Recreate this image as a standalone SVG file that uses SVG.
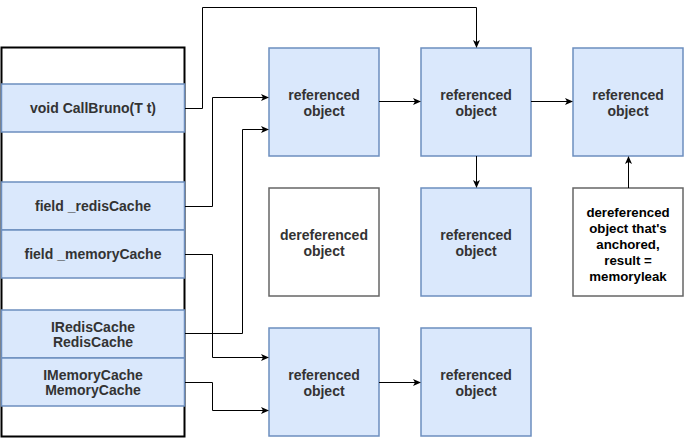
<svg xmlns="http://www.w3.org/2000/svg" width="684" height="439" viewBox="0 0 684 439">
<defs>
<marker id="arr" markerWidth="10" markerHeight="10" refX="8" refY="5" orient="auto" markerUnits="userSpaceOnUse">
<path d="M1,1.5 L9,5 L1,8.5 L3,5 Z" fill="#000"/>
</marker>
<style>
.blue{fill:#dae8fc;stroke:#6c8ebf;stroke-width:1.5}
.white{fill:#fff;stroke:#666;stroke-width:1.5}
.lbl{font-family:"Liberation Sans",Arial,sans-serif;font-size:14px;font-weight:bold;fill:#333;text-anchor:middle;dominant-baseline:central}
.dark{fill:#000;font-size:13.25px}
.edge{fill:none;stroke:#000;stroke-width:1;marker-end:url(#arr)}
</style>
</defs>
<rect width="684" height="439" fill="#fff"/>
<g id="stack">
<rect x="1.5" y="47.5" width="183" height="389" fill="#fff" stroke="#000" stroke-width="2"/>
</g>
<g id="row-callbruno"><rect class="blue" x="1.5" y="84" width="183" height="48"/><text class="lbl" x="93" y="108">void CallBruno(T t)</text></g>
<g id="row-redis"><rect class="blue" x="1.5" y="182" width="183" height="48"/><text class="lbl" x="93" y="206">field _redisCache</text></g>
<g id="row-memory"><rect class="blue" x="1.5" y="230" width="183" height="48"/><text class="lbl" x="93" y="254">field _memoryCache</text></g>
<g id="row-iredis"><rect class="blue" x="1.5" y="310" width="183" height="48"/><text class="lbl" x="93" y="326.5">IRedisCache</text><text class="lbl" x="93" y="342">RedisCache</text></g>
<g id="row-imemory"><rect class="blue" x="1.5" y="358" width="183" height="48"/><text class="lbl" x="93" y="374.5">IMemoryCache</text><text class="lbl" x="93" y="390">MemoryCache</text></g>

<g id="nodeA"><rect class="blue" x="269" y="48" width="110" height="108"/><text class="lbl" x="324" y="95">referenced</text><text class="lbl" x="324" y="110.5">object</text></g>
<g id="nodeB"><rect class="blue" x="421" y="48" width="110" height="108"/><text class="lbl" x="476" y="95">referenced</text><text class="lbl" x="476" y="110.5">object</text></g>
<g id="nodeC"><rect class="blue" x="573" y="48" width="110" height="108"/><text class="lbl" x="628" y="95">referenced</text><text class="lbl" x="628" y="110.5">object</text></g>
<g id="nodeDeref"><rect class="white" x="269" y="188" width="110" height="108"/><text class="lbl" x="324" y="235">dereferenced</text><text class="lbl" x="324" y="250.5">object</text></g>
<g id="nodeD"><rect class="blue" x="421" y="188" width="110" height="108"/><text class="lbl" x="476" y="235">referenced</text><text class="lbl" x="476" y="250.5">object</text></g>
<g id="nodeLeak"><rect class="white" x="573" y="188" width="110" height="108" stroke-width="2"/>
<text class="lbl dark" x="628" y="212.5">dereferenced</text>
<text class="lbl dark" x="628" y="228.5">object that's</text>
<text class="lbl dark" x="628" y="244.5">anchored,</text>
<text class="lbl dark" x="628" y="260.5">result =</text>
<text class="lbl dark" x="628" y="276.5">memoryleak</text></g>
<g id="nodeE"><rect class="blue" x="269" y="328" width="110" height="108"/><text class="lbl" x="324" y="375">referenced</text><text class="lbl" x="324" y="390.5">object</text></g>
<g id="nodeF"><rect class="blue" x="421" y="328" width="110" height="108"/><text class="lbl" x="476" y="375">referenced</text><text class="lbl" x="476" y="390.5">object</text></g>

<g id="connectors">
<path class="edge" d="M185,108.5 H202.5 V7.5 H476.5 V47"/>
<path class="edge" d="M185,206.5 H212.5 V97.5 H268"/>
<path class="edge" d="M185,333.5 H242.5 V129.5 H268"/>
<path class="edge" d="M185,254.5 H212.5 V357.5 H268"/>
<path class="edge" d="M185,382.5 H212.5 V410.5 H268"/>
<path class="edge" d="M379,101.5 H420"/>
<path class="edge" d="M531,101.5 H572"/>
<path class="edge" d="M476.5,156 V187"/>
<path class="edge" d="M628.5,188 V157"/>
<path class="edge" d="M379,382.5 H420"/>
</g>
</svg>
